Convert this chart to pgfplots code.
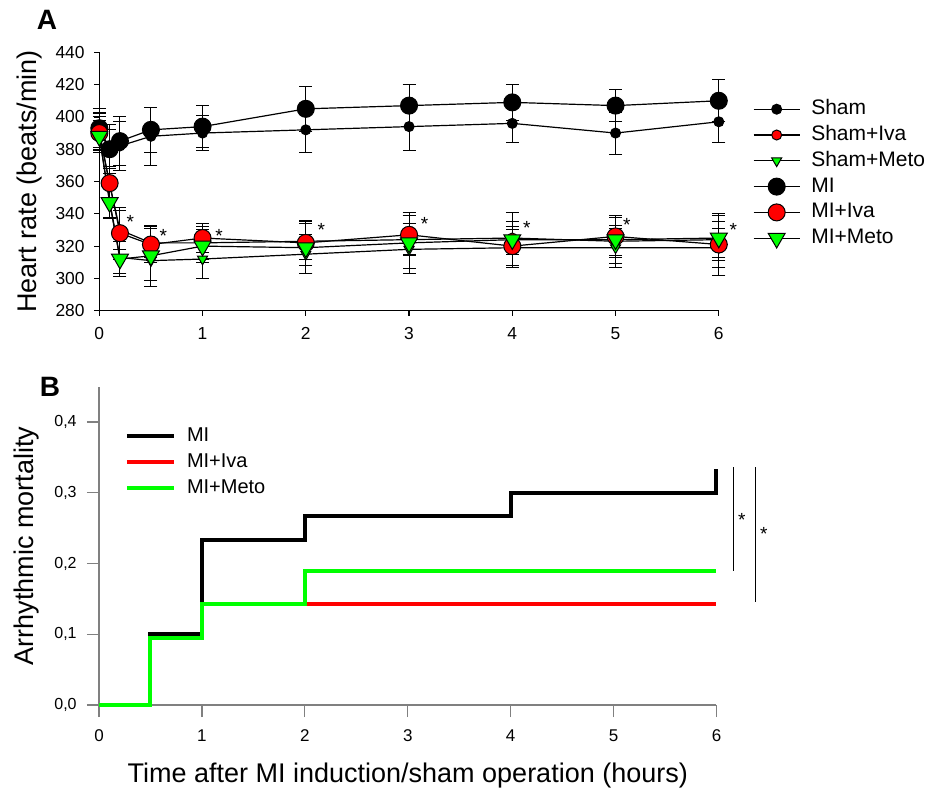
\documentclass[border=0pt]{standalone}
\usepackage{fontspec}
\setmainfont{Liberation Sans}
\usepackage{pgfplots}
\pgfplotsset{compat=1.18}
\definecolor{ivared}{RGB}{255,0,0}
\definecolor{metogreen}{RGB}{0,255,0}
\definecolor{axisgray}{RGB}{128,128,128}

\pgfplotsset{
  hrline/.style={black, line width=0.6pt,
    /pgfplots/error bars/y dir=both, /pgfplots/error bars/y explicit,
    /pgfplots/error bars/error bar style={black, line width=0.5pt},
    /pgfplots/error bars/error mark options={rotate=90, mark size=3.25pt, black, line width=0.5pt}},
}
\tikzset{sigstar/.style={font=\fontsize{9.5}{9.5}\selectfont, inner sep=0pt}}

\begin{document}
\begin{tikzpicture}
\path[use as bounding box] (0,0) rectangle (462.5pt,-394.5pt);
\node[font=\fontsize{14}{14}\selectfont\bfseries] at (23.5pt,-10pt) {A};
\node[font=\fontsize{14}{14}\selectfont\bfseries] at (25pt,-193.5pt) {B};

% panel A: heart rate
\begin{axis}[
  at={(49.65pt,-155.35pt)}, anchor=south west,
  scale only axis, width=309.75pt, height=129.2pt,
  xmin=0, xmax=6, ymin=280, ymax=440,
  axis lines*=left, tick align=outside, major tick length=2.5pt,
  axis line style={line width=0.6pt}, tick style={black, line width=0.6pt},
  xtick={0,...,6}, ytick={280,300,...,440},
  tick label style={font=\fontsize{8.7}{10}\selectfont},
  /pgf/number format/assume math mode=true,
  xticklabel style={inner sep=0pt}, yticklabel style={inner sep=0pt},
  xticklabel shift=5.5pt, yticklabel shift=4.65pt,
  ylabel={Heart rate (beats/min)},
  ylabel style={at={(axis description cs:-0.1132,0.5)}, anchor=center, font=\fontsize{13.5}{16}\selectfont},
  clip=false,
  legend style={at={(axis description cs:1.0547,0.822)}, anchor=north west,
    draw=none, fill=none, inner sep=0pt, row sep=2.4pt, column sep=5.5pt,
    font=\fontsize{10.5}{12}\selectfont,
    nodes={inner sep=0pt, text height=8pt, text depth=2.5pt}},
  legend cell align=left,
  legend image code/.code={\draw[mark repeat=2,mark phase=2] plot coordinates {(0pt,0pt) (11.5pt,0pt) (23pt,0pt)};},
]
\addplot[hrline, mark=*, mark size=2.5pt, mark options={solid, fill=black, draw=black, line width=0.5pt}]
  coordinates {(0,391) +- (0,12) (0.1,380) +- (0,15) (0.2,382) +- (0,15) (0.5,388) +- (0,18) (1,390) +- (0,11)
               (2,392) +- (0,14) (3,394) +- (0,15) (4,396) +- (0,12) (5,390) +- (0,13) (6,397) +- (0,13)};
\addlegendentry{Sham}
\addplot[hrline, mark=*, mark size=2.5pt, mark options={solid, fill=ivared, draw=black, line width=0.5pt}]
  coordinates {(0,391) +- (0,11) (0.1,358) +- (0,10) (0.2,330) +- (0,12) (0.5,322) +- (0,9) (1,322) +- (0,10)
               (2,323) +- (0,11) (3,324) +- (0,10) (4,325) +- (0,10) (5,323) +- (0,10) (6,324) +- (0,11)};
\addlegendentry{Sham+Iva}
\addplot[hrline, mark=triangle*, mark size=2.9pt, mark options={solid, rotate=180, fill=metogreen, draw=black, line width=0.5pt}]
  coordinates {(0,388) +- (0,10) (0.1,348) +- (0,10) (0.2,313) +- (0,10) (0.5,311) +- (0,12) (1,312) +- (0,12)
               (2,315) +- (0,12) (3,318) +- (0,12) (4,319) +- (0,11) (5,319) +- (0,12) (6,319) +- (0,12)};
\addlegendentry{Sham+Meto}
\addplot[hrline, mark=*, mark size=4.25pt, mark options={solid, fill=black, draw=black, line width=0.5pt}]
  coordinates {(0,393) +- (0,12) (0.1,380) +- (0,12) (0.2,385) +- (0,15) (0.5,392) +- (0,14) (1,394) +- (0,13)
               (2,405) +- (0,14) (3,407) +- (0,13) (4,409) +- (0,11) (5,407) +- (0,10) (6,410) +- (0,13)};
\addlegendentry{MI}
\addplot[hrline, mark=*, mark size=4.25pt, mark options={solid, fill=ivared, draw=black, line width=0.5pt}]
  coordinates {(0,390) +- (0,10) (0.1,359) +- (0,10) (0.2,328) +- (0,16) (0.5,321) +- (0,11) (1,325) +- (0,9)
               (2,322) +- (0,14) (3,327) +- (0,12) (4,320) +- (0,12) (5,326) +- (0,12) (6,321) +- (0,19)};
\addlegendentry{MI+Iva}
\addplot[hrline, mark=triangle*, mark size=4.9pt, mark options={solid, rotate=180, fill=metogreen, draw=black, line width=0.5pt}]
  coordinates {(0,388) +- (0,10) (0.1,347) +- (0,10) (0.2,312) +- (0,11) (0.5,314) +- (0,19) (1,320) +- (0,10)
               (2,319) +- (0,16) (3,322) +- (0,19) (4,324) +- (0,17) (5,324) +- (0,15) (6,325) +- (0,14)};
\addlegendentry{MI+Meto}
% significance marks
\node[sigstar] at (axis cs:0.30,335) {*};
\node[sigstar] at (axis cs:0.62,326) {*};
\node[sigstar] at (axis cs:1.16,326.5) {*};
\node[sigstar] at (axis cs:2.15,330) {*};
\node[sigstar] at (axis cs:3.15,333.5) {*};
\node[sigstar] at (axis cs:4.14,331) {*};
\node[sigstar] at (axis cs:5.11,333) {*};
\node[sigstar] at (axis cs:6.14,330) {*};
\end{axis}

% panel B: arrhythmic mortality
\begin{axis}[
  at={(49.5pt,-352.5pt)}, anchor=south west,
  scale only axis, width=308.75pt, height=159.2pt,
  xmin=0, xmax=6, ymin=0, ymax=0.45,
  axis lines*=left, tick align=outside, major tick length=6pt,
  axis line style={axisgray, line width=0.6pt}, tick style={axisgray, line width=0.6pt},
  xtick={0,...,6}, ytick={0,0.1,0.2,0.3,0.4},
  xticklabel style={font=\fontsize{8.5}{10}\selectfont, inner sep=0pt},
  yticklabel style={font=\fontsize{8}{9}\selectfont, inner sep=0pt,
    /pgf/number format/.cd, fixed, fixed zerofill, precision=1, use comma},
  /pgf/number format/assume math mode=true,
  xticklabel shift=6pt, yticklabel shift=5pt,
  xlabel={Time after MI induction/sham operation (hours)},
  xlabel style={at={(axis description cs:0.5,-0.22)}, anchor=center, font=\fontsize{13.5}{16}\selectfont},
  ylabel={Arrhythmic mortality},
  ylabel style={at={(axis description cs:-0.117,0.5)}, anchor=center, font=\fontsize{13.5}{16}\selectfont},
  clip=false,
  legend style={at={(axis description cs:0.0413,0.879)}, anchor=north west,
    draw=none, fill=none, inner sep=0pt, row sep=2.4pt, column sep=5.3pt,
    font=\fontsize{10}{12}\selectfont,
    nodes={inner sep=0pt, text height=8pt, text depth=2.5pt}},
  legend cell align=left,
  legend image code/.code={\draw (0pt,0pt) -- (23.75pt,0pt);},
]
\addplot[const plot, black, line width=2pt] coordinates {(0,0) (0.5,0.1) (1,0.233) (2,0.267) (4,0.3) (6,0.333)};
\addlegendentry{MI}
\addplot[const plot, ivared, line width=2pt] coordinates {(0,0) (0.5,0.095) (1,0.143) (6,0.143)};
\addlegendentry{MI+Iva}
\addplot[const plot, metogreen, line width=2pt] coordinates {(0,0) (0.5,0.095) (1,0.143) (2,0.19) (6,0.19)};
\addlegendentry{MI+Meto}
\draw[black, line width=0.5pt] (axis cs:6.17,0.336) -- (axis cs:6.17,0.19);
\draw[black, line width=0.5pt] (axis cs:6.375,0.336) -- (axis cs:6.375,0.146);
\node[sigstar] at (axis cs:6.245,0.261) {*};
\node[sigstar] at (axis cs:6.46,0.242) {*};
\end{axis}
\end{tikzpicture}
\end{document}
